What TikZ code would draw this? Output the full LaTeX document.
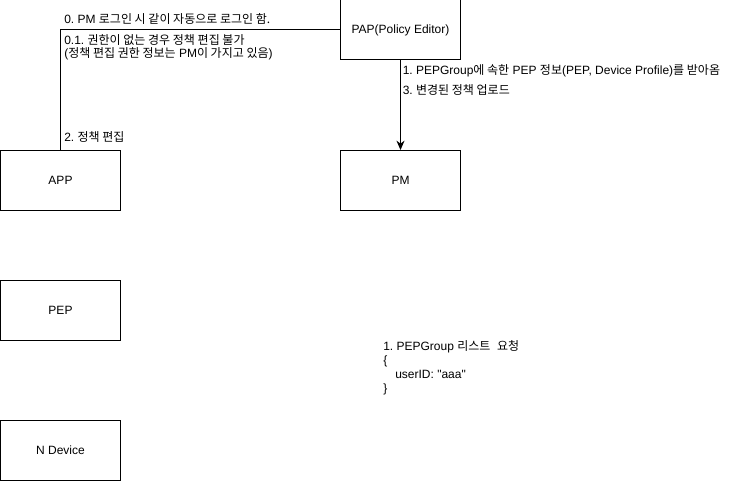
\documentclass[tikz,border=0pt]{standalone}
\usepackage{fontspec}
\setmainfont{Liberation Sans}[Ligatures=TeXOff]
\newfontfamily\kr{Noto Sans CJK KR}
\newcommand{\K}[1]{{\kr #1}}
\usetikzlibrary{arrows.meta}
\tikzset{
  box/.style={draw=black, line width=0.75pt, minimum width=90pt, minimum height=45pt, inner sep=0pt, font=\fontsize{9}{11}\selectfont},
  lbl/.style={anchor=west, inner sep=0pt, font=\fontsize{9}{10}\selectfont, align=left},
  conn/.style={draw=black, line width=0.75pt},
}
\begin{document}
\frenchspacing
\begin{tikzpicture}[x=0.75pt, y=-0.75pt]
\useasboundingbox (0,0) rectangle (731,481);
\node[box] (pap) at (400.5,30) {PAP(Policy Editor)};
\node[box] (app) at (60.5,180.5) {APP};
\node[box] (pm) at (400.5,180.5) {PM};
\node[box] (pep) at (60.5,310.5) {PEP};
\node[box] (ndev) at (60.5,450.5) {N Device};

\draw[conn] (pap.west) -| (app.north);
\draw[conn, -{Stealth[length=7pt, width=6pt]}] (pap.south) -- (pm.north);

\node[lbl] (t0) at (64,19) {0. PM \K{로그인 시 같이 자동으로 로그인 함.}};
\node[lbl, anchor=north west] (t01) at (64,34) {0.1. \K{권한이 없는 경우 정책 편집 불가}\\(\K{정책 편집 권한 정보는} PM\K{이 가지고 있음})};
\node[lbl] (t2) at (64,137) {2. \K{정책 편집}};
\node[lbl] (t1) at (402.5,71) {1. PEPGroup\K{에 속한} PEP \K{정보}(PEP, Device Profile)\K{를 받아옴}};
\node[lbl] (t3) at (402.5,90) {3. \K{변경된 정책 업로드}};
\node[lbl, anchor=north west, font=\fontsize{9}{10.5}\selectfont] (req) at (383,340) {1. PEPGroup \K{리스트}\ \ \K{요청}\\\{\\\hspace{9pt}userID: "aaa"\\\}};
\end{tikzpicture}
\end{document}
